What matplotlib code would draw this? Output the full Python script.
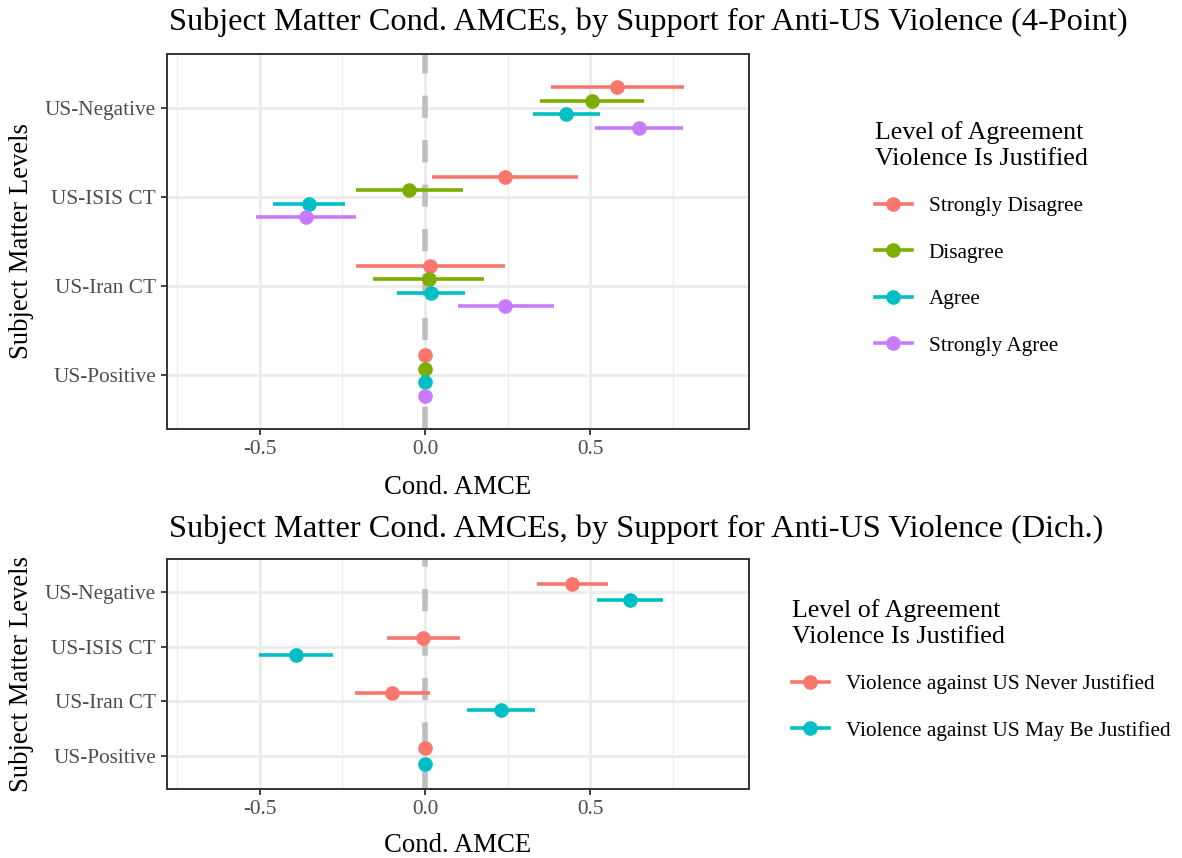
import matplotlib
matplotlib.use("Agg")
import matplotlib.pyplot as plt
from matplotlib.lines import Line2D
from matplotlib.ticker import FixedLocator

plt.rcParams['font.family'] = ['Liberation Serif', 'DejaVu Serif']

# subject matter levels, bottom to top
levels = ['US-Positive', 'US-Iran CT', 'US-ISIS CT', 'US-Negative']

# 4-point agreement panel
groups4 = ['Strongly Disagree', 'Disagree', 'Agree', 'Strongly Agree']
sd_est = [0, 0.016, 0.242, 0.582]
sd_lo = [0, -0.209, 0.020, 0.382]
sd_hi = [0, 0.242, 0.464, 0.783]
d_est = [0, 0.013, -0.047, 0.506]
d_lo = [0, -0.156, -0.208, 0.349]
d_hi = [0, 0.180, 0.114, 0.663]
a_est = [0, 0.017, -0.351, 0.427]
a_lo = [0, -0.084, -0.459, 0.326]
a_hi = [0, 0.121, -0.241, 0.528]
sa_est = [0, 0.243, -0.360, 0.647]
sa_lo = [0, 0.099, -0.512, 0.514]
sa_hi = [0, 0.389, -0.208, 0.781]

# dichotomous panel
groups2 = ['Violence against US Never Justified', 'Violence against US May Be Justified']
never_est = [0, -0.100, -0.006, 0.445]
never_lo = [0, -0.212, -0.114, 0.339]
never_hi = [0, 0.015, 0.105, 0.555]
may_est = [0, 0.231, -0.390, 0.619]
may_lo = [0, 0.128, -0.502, 0.520]
may_hi = [0, 0.334, -0.278, 0.719]

colors4 = ['#F8766D', '#7CAE00', '#00BFC4', '#C77CFF']
colors2 = ['#F8766D', '#00BFC4']

W, H = 1182, 858
fig = plt.figure(figsize=(W / 100, H / 100), dpi=100)


def px_axes(left, top, right, bottom):
    return fig.add_axes([left / W, 1 - bottom / H, (right - left) / W, (bottom - top) / H])


def style(ax):
    ax.set_xlim(-0.78, 0.98)
    ax.set_ylim(0.4, 4.6)
    ax.set_facecolor('white')
    ax.xaxis.set_major_locator(FixedLocator([-0.5, 0, 0.5]))
    ax.xaxis.set_minor_locator(FixedLocator([-0.75, -0.25, 0.25, 0.75]))
    ax.set_xticklabels(['-0.5', '0.0', '0.5'])
    ax.set_yticks(range(1, len(levels) + 1))
    ax.set_yticklabels(levels)
    ax.grid(which='major', color='#EBEBEB', lw=2.0, zorder=0)
    ax.grid(which='minor', axis='x', color='#EBEBEB', lw=1.0, zorder=0)
    ax.set_axisbelow(True)
    ax.tick_params(which='major', length=4.5, width=1.3, color='#333333',
                   labelsize=15.3, labelcolor='#4D4D4D', pad=3.5)
    ax.tick_params(which='minor', length=0)
    for s in ax.spines.values():
        s.set_color('#333333')
        s.set_linewidth(1.4)
    ax.axvline(0, color='#BEBEBE', lw=4, dashes=(4, 4), zorder=1.5)


def draw(ax, ests, los, his, colors, offsets):
    handles = []
    for est, lo, hi, c, off in zip(ests, los, his, colors, offsets):
        y = [i + 1 + off for i in range(len(levels))]
        xerr = [[e - l for e, l in zip(est, lo)], [h - e for e, h in zip(est, hi)]]
        ax.errorbar(est, y, xerr=xerr, fmt='o', color=c, ecolor=c,
                    elinewidth=2.6, capsize=0, markersize=9.5, zorder=3)
        handles.append(Line2D([], [], color=c, lw=2.6, marker='o', markersize=9.5))
    return handles


# top panel
ax1 = px_axes(167, 54, 749, 429)
style(ax1)
h1 = draw(ax1, [sd_est, d_est, a_est, sa_est], [sd_lo, d_lo, a_lo, sa_lo],
          [sd_hi, d_hi, a_hi, sa_hi], colors4, [0.225, 0.075, -0.075, -0.225])

# bottom panel
ax2 = px_axes(167, 559, 749, 789)
style(ax2)
h2 = draw(ax2, [never_est, may_est], [never_lo, may_lo], [never_hi, may_hi],
          colors2, [0.15, -0.15])

# titles and axis labels
fig.text(169 / W, 1 - 22 / H, 'Subject Matter Cond. AMCEs, by Support for Anti-US Violence (4-Point)',
         fontsize=23.3, ha='left', va='center')
fig.text(169 / W, 1 - 529 / H, 'Subject Matter Cond. AMCEs, by Support for Anti-US Violence (Dich.)',
         fontsize=23.3, ha='left', va='center')
fig.text(458 / W, 1 - 488 / H, 'Cond. AMCE', fontsize=19.3, ha='center', va='center')
fig.text(458 / W, 1 - 845 / H, 'Cond. AMCE', fontsize=19.3, ha='center', va='center')
fig.text(22 / W, 1 - 241 / H, 'Subject Matter Levels', fontsize=19.3, rotation=90,
         ha='center', va='center')
fig.text(22 / W, 1 - 674 / H, 'Subject Matter Levels', fontsize=19.3, rotation=90,
         ha='center', va='center')

leg_title = 'Level of Agreement\nViolence Is Justified'
leg1 = ax1.legend(handles=h1, labels=groups4, loc='upper left',
                  bbox_to_anchor=(866 / W, 1 - 113 / H), bbox_transform=fig.transFigure,
                  frameon=False, title=leg_title, title_fontsize=18.7, fontsize=15.3,
                  alignment='left', handlelength=1.75, handletextpad=0.8,
                  labelspacing=1.25, borderaxespad=0)
leg2 = ax2.legend(handles=h2, labels=groups2, loc='upper left',
                  bbox_to_anchor=(783 / W, 1 - 591 / H), bbox_transform=fig.transFigure,
                  frameon=False, title=leg_title, title_fontsize=18.7, fontsize=15.3,
                  alignment='left', handlelength=1.75, handletextpad=0.8,
                  labelspacing=1.25, borderaxespad=0)

fig.savefig('out.png', dpi=100, facecolor='white')
